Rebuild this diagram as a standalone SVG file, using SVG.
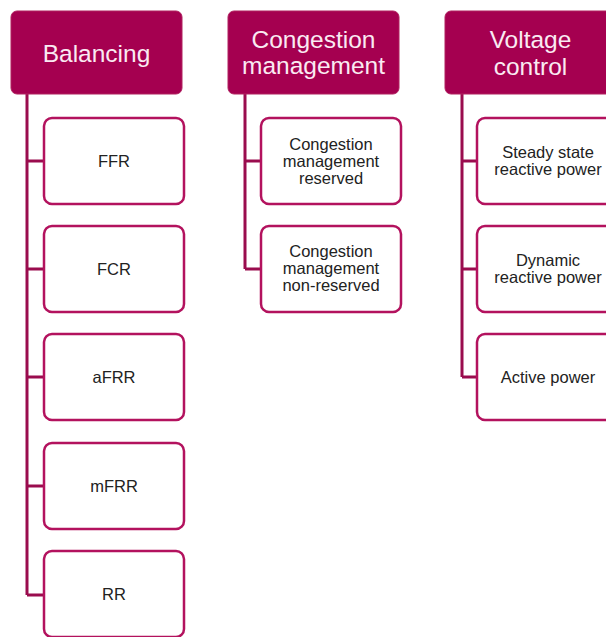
<svg xmlns="http://www.w3.org/2000/svg" width="606" height="637" viewBox="0 0 606 637">
<style>
.hdr{fill:#A50050;stroke:#B0205F;stroke-width:1}
.box{fill:#ffffff;stroke:#B3125E;stroke-width:2.5}
.ht{font-family:"Liberation Sans",Arial,sans-serif;font-size:24.5px;fill:#FAEAF2;text-anchor:middle}
.bt{font-family:"Liberation Sans",Arial,sans-serif;font-size:16.5px;fill:#222;text-anchor:middle}
.con{fill:none;stroke:#9A0C4E;stroke-width:3}
</style>
<rect width="606" height="637" fill="#ffffff"/>
<g id="connectors">
<path class="con" d="M27 94V595M27 161H44M27 269H44M27 377H44M27 486H44M27 595H44"/>
<path class="con" d="M245 93V269M245 161H261M245 269H261"/>
<path class="con" d="M462 94V377M462 161H477M462 269H477M462 377H477"/>
</g>
<g id="balancing"><rect class="hdr" x="11" y="11" width="171" height="83" rx="6"/><text class="ht" x="96.5" y="61.5">Balancing</text></g>
<g id="congestion"><rect class="hdr" x="228" y="11" width="171" height="83" rx="6"/><text class="ht" x="313.5" y="48">Congestion</text><text class="ht" x="313.5" y="74">management</text></g>
<g id="voltage"><rect class="hdr" x="445" y="11" width="171" height="83" rx="6"/><text class="ht" x="530.5" y="48">Voltage</text><text class="ht" x="530.5" y="75">control</text></g>
<g id="ffr"><rect class="box" x="44" y="118" width="140" height="86" rx="8"/><text class="bt" x="114" y="166.5">FFR</text></g>
<g id="fcr"><rect class="box" x="44" y="226" width="140" height="86" rx="8"/><text class="bt" x="114" y="274.5">FCR</text></g>
<g id="afrr"><rect class="box" x="44" y="334" width="140" height="86" rx="8"/><text class="bt" x="114" y="382.5">aFRR</text></g>
<g id="mfrr"><rect class="box" x="44" y="443" width="140" height="86" rx="8"/><text class="bt" x="114" y="491.5">mFRR</text></g>
<g id="rr"><rect class="box" x="44" y="551" width="140" height="86" rx="8"/><text class="bt" x="114" y="600">RR</text></g>
<g id="cm-reserved"><rect class="box" x="261" y="118" width="140" height="86" rx="8"/><text class="bt" x="331" y="150">Congestion</text><text class="bt" x="331" y="167">management</text><text class="bt" x="331" y="184">reserved</text></g>
<g id="cm-nonreserved"><rect class="box" x="261" y="226" width="140" height="86" rx="8"/><text class="bt" x="331" y="257">Congestion</text><text class="bt" x="331" y="274">management</text><text class="bt" x="331" y="291">non-reserved</text></g>
<g id="steady"><rect class="box" x="477" y="118" width="140" height="86" rx="8"/><text class="bt" x="548" y="158">Steady state</text><text class="bt" x="548" y="175">reactive power</text></g>
<g id="dynamic"><rect class="box" x="477" y="226" width="140" height="86" rx="8"/><text class="bt" x="548" y="266">Dynamic</text><text class="bt" x="548" y="283">reactive power</text></g>
<g id="active"><rect class="box" x="477" y="334" width="140" height="86" rx="8"/><text class="bt" x="548" y="383">Active power</text></g>
</svg>
